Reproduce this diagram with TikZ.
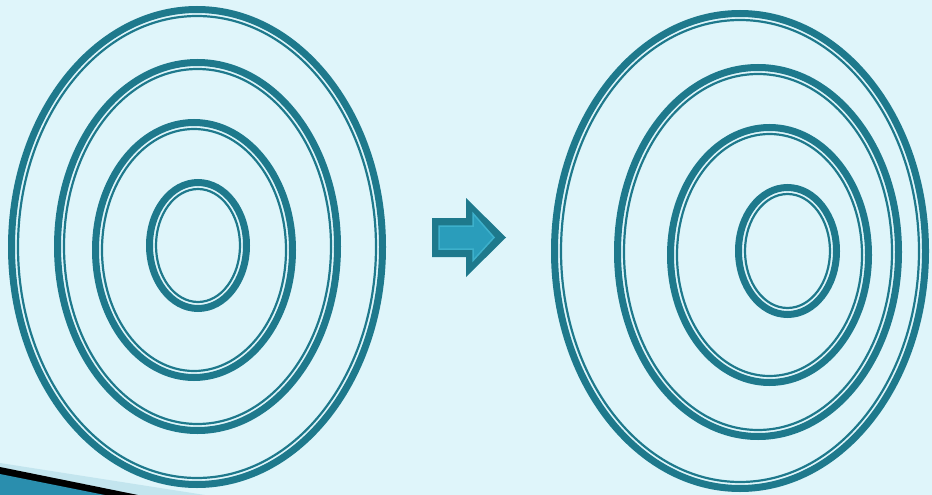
\documentclass[tikz,border=0pt]{standalone}
\usepackage{tikz}
\definecolor{bg}{HTML}{DFF5FA}
\definecolor{teal}{HTML}{1E798C}
\definecolor{arrowin}{HTML}{2A9DBB}
\definecolor{arrowedge}{HTML}{3DB0CB}
\definecolor{bandlight}{HTML}{C3E5EE}
\definecolor{bandblue}{HTML}{2A8EAE}
\tikzset{
  thickring/.style={draw=teal, line width=7pt},
  thinring/.style={draw=teal, line width=2.2pt},
  outerarrow/.style={fill=teal, draw=none},
  innerarrow/.style={fill=arrowin, draw=arrowedge, line width=1.5pt, line join=miter},
}
\begin{document}
\begin{tikzpicture}[x=1pt,y=-1pt]
\fill[bg] (0,0) rectangle (932,495);
\useasboundingbox (0,0) rectangle (932,495);
% concentric rings: cx/cy/rx/ry (outer edge)
\foreach \cx/\cy/\rx/\ry in {
  197/247/189/241, 197.5/246.5/143.5/187.5, 194/250/102/131, 198/245.5/52/66.5,
  740/251/189/241, 758/252/144/188, 769.5/255/102.5/131, 787.5/251/52.5/67}{
  \draw[thickring] (\cx,\cy) ellipse [x radius=\rx-3.5, y radius=\ry-3.5];
  \draw[thinring] (\cx,\cy) ellipse [x radius=\rx-10, y radius=\ry-10];
}
% block arrow
\fill[outerarrow] (432,218) -- (466,218) -- (466,198) -- (506,237.5) -- (466,277) -- (466,257) -- (432,257) -- cycle;
\draw[innerarrow] (439,226) -- (473,226) -- (473,213.5) -- (494,237.5) -- (473,260.5) -- (473,249) -- (439,249) -- cycle;
% bottom-left corner decoration
\fill[bandlight] (0,463) -- (205,495) -- (0,495) -- cycle;
\fill[black] (0,467) -- (138,495) -- (0,495) -- cycle;
\fill[bandblue] (0,474) -- (105,495) -- (0,495) -- cycle;
\end{tikzpicture}
\end{document}
